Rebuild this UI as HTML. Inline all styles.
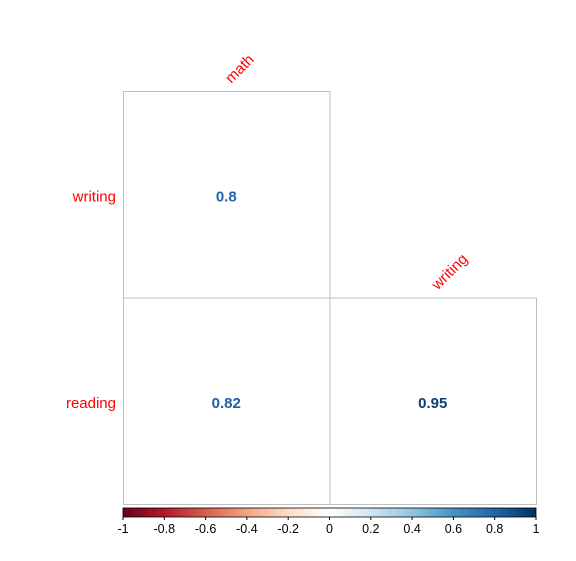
<!DOCTYPE html>
<html><head><meta charset="utf-8"><style>
html,body{margin:0;padding:0;background:#fff;}
svg{display:block;font-family:"Liberation Sans",Arial,sans-serif;}
</style></head><body>
<svg id="chart" width="576" height="561">
<defs>
<linearGradient id="rdbu" x1="0" x2="1" y1="0" y2="0">
<stop offset="0" stop-color="#67001F"/><stop offset="0.1" stop-color="#B2182B"/>
<stop offset="0.2" stop-color="#D6604D"/><stop offset="0.3" stop-color="#F4A582"/>
<stop offset="0.4" stop-color="#FDDBC7"/><stop offset="0.5" stop-color="#FFFFFF"/>
<stop offset="0.6" stop-color="#D1E5F0"/><stop offset="0.7" stop-color="#92C5DE"/>
<stop offset="0.8" stop-color="#4393C3"/><stop offset="0.9" stop-color="#2166AC"/>
<stop offset="1" stop-color="#053061"/>
</linearGradient>
</defs>
<g id="cells"></g>
<g id="bar"></g>
</svg>
<script>
const rowLabels = ["writing","reading"];
const colLabels = ["math","writing"];
const values = [[0.8,null],[0.82,0.95]];
const ticks = [-1,-0.8,-0.6,-0.4,-0.2,0,0.2,0.4,0.6,0.8,1];

const NS="http://www.w3.org/2000/svg";
const x0=123, y0=91, cs=206.5;
const g=document.getElementById('cells');
function mk(t,a,p){const e=document.createElementNS(NS,t);for(const k in a)e.setAttribute(k,a[k]);(p||g).appendChild(e);return e;}
function col(v){
  const stops=[[-1,[103,0,31]],[-0.8,[178,24,43]],[-0.6,[214,96,77]],[-0.4,[244,165,130]],[-0.2,[253,219,199]],[0,[255,255,255]],[0.2,[209,229,240]],[0.4,[146,197,222]],[0.6,[67,147,195]],[0.8,[33,102,172]],[1,[5,48,97]]];
  for(let i=0;i<stops.length-1;i++){const [a,ca]=stops[i],[b,cb]=stops[i+1];if(v<=b){const t=(v-a)/(b-a);return 'rgb('+ca.map((c,j)=>Math.round(c+(cb[j]-c)*t)).join(',')+')';}}
  return 'rgb(5,48,97)';
}
function sx(v){return 123+(v+1)/2*413;}
values.forEach((row,i)=>row.forEach((v,j)=>{
  if(v===null)return;
  const x=x0+j*cs,y=y0+i*cs;
  const r=mk('rect',{x:x+0.5,y:y+0.5,width:cs,height:cs,fill:'none',stroke:'#bfbfbf'});
  
  
  const t=mk('text',{x:x+cs/2,y:y+cs/2+7,'text-anchor':'middle','font-size':15,'font-weight':'bold',fill:col(v)});
  t.textContent=v;
  
  
}));
rowLabels.forEach((l,i)=>{
  const t=mk('text',{x:116,y:y0+i*cs+cs/2+7,'text-anchor':'end','font-size':15,fill:'#FF0000'});
  t.textContent=l;
  
  
});
colLabels.forEach((l,j)=>{
  const cx=x0+j*cs+cs/2+5, cy=y0+j*cs-7;
  const t=mk('text',{x:cx,y:cy,'font-size':15,fill:'#FF0000',transform:'rotate(-45 '+cx+' '+cy+')'});
  t.textContent=l;
  
  
});
const b=document.getElementById('bar');
const cb=mk('rect',{x:123,y:508,width:413,height:9,fill:'url(#rdbu)',stroke:'#000','stroke-width':0.8},b);


ticks.forEach(v=>{
  const x=sx(v);
  mk('line',{x1:x,x2:x,y1:517,y2:520,stroke:'#000'},b);
  const t=mk('text',{x:x,y:533,'text-anchor':'middle','font-size':12.5,fill:'#000'},b);
  t.textContent=v;
  
  
});
</script>
</body></html>
